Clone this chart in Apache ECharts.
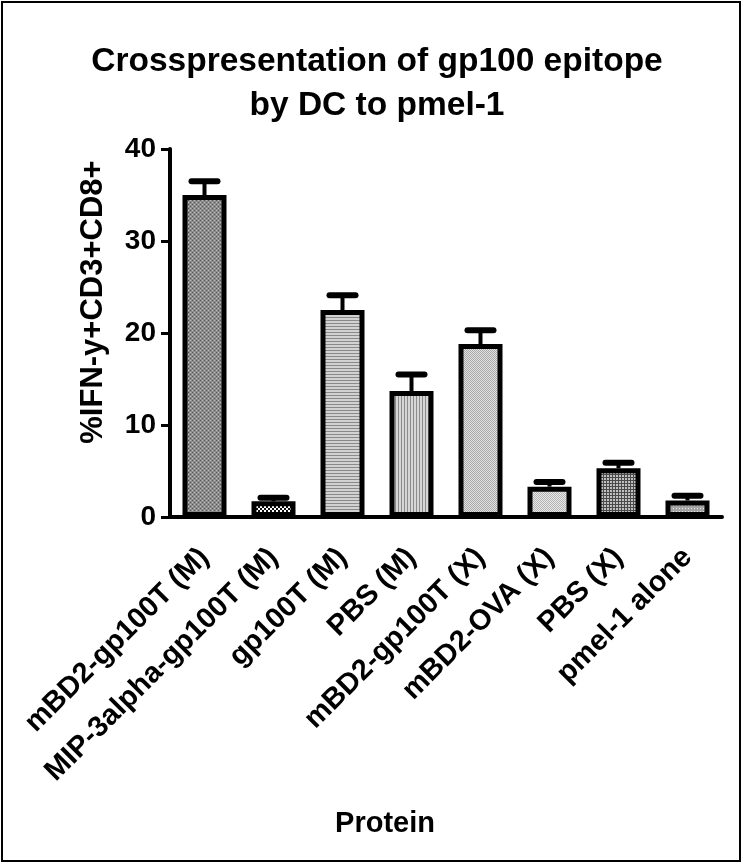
<!DOCTYPE html>
<html><head><meta charset="utf-8">
<script src="https://cdn.jsdelivr.net/npm/echarts@6/dist/echarts.min.js"></script>
<style>html,body{margin:0;padding:0;background:#fff}#c{width:743px;height:864px}</style>
</head><body><div id="c"></div>
<script>
const categories = ['mBD2-gp100T (M)','MIP-3alpha-gp100T (M)','gp100T (M)','PBS (M)','mBD2-gp100T (X)','mBD2-OVA (X)','PBS (X)','pmel-1 alone'];
const means = [35.0, 1.7, 22.5, 13.7, 18.8, 3.3, 5.3, 1.8];
const errTops = [36.5, 2.1, 24.1, 15.5, 20.3, 3.8, 5.9, 2.3];
const yTicks = [0, 10, 20, 30, 40];

function pat(w, h, draw) {
  const c = document.createElement('canvas'); c.width = w; c.height = h;
  const g = c.getContext('2d'); draw(g); return {image: c, repeat: 'repeat'};
}
function px(g, col, x, y, w, h) { g.fillStyle = col; g.fillRect(x, y, w || 1, h || 1); }
const patterns = [
  pat(4, 4, g => { px(g,'#8c8c8c',0,0,4,4); px(g,'#555',0,0); px(g,'#555',2,2); px(g,'#bbb',2,0); px(g,'#bbb',0,2); }),
  pat(4, 4, g => { px(g,'#ffffff',0,0,4,4); px(g,'#111',0,0,2,2); px(g,'#111',2,2,2,2); }),
  pat(1, 3, g => { px(g,'#d2d2d2',0,0,1,2); px(g,'#8a8a8a',0,2); }),
  pat(3, 1, g => { px(g,'#d6d6d6',0,0,2,1); px(g,'#8a8a8a',2,0); }),
  pat(2, 2, g => { px(g,'#e2e2e2',0,0,2,2); px(g,'#a8a8a8',0,0); px(g,'#a8a8a8',1,1); }),
  pat(2, 2, g => { px(g,'#e8e8e8',0,0,2,2); px(g,'#b4b4b4',0,0); px(g,'#b4b4b4',1,1); }),
  pat(3, 3, g => { px(g,'#c0c0c0',0,0,3,3); px(g,'#4a4a4a',0,0,3,1); px(g,'#4a4a4a',0,0,1,3); }),
  pat(3, 3, g => { px(g,'#a4a4a4',0,0,3,3); px(g,'#e8e8e8',1,1); })
];

const chart = echarts.init(document.getElementById('c'), null, {renderer: 'canvas'});
const font = 'Liberation Sans, Arial, sans-serif';
chart.setOption({
  animation: false,
  backgroundColor: '#fff',
  title: [
    {text: 'Crosspresentation of gp100 epitope\nby DC to pmel-1', left: 372, top: 35, textAlign: 'center',
     textStyle: {fontFamily: font, fontWeight: 'bold', fontSize: 33.5, lineHeight: 44, color: '#000'}},
    {text: 'Protein', left: 380, top: 804, textAlign: 'center',
     textStyle: {fontFamily: font, fontWeight: 'bold', fontSize: 29, color: '#000'}}
  ],
  graphic: [
    {type: 'rect', shape: {x: 2, y: 2, width: 738, height: 859}, style: {fill: 'none', stroke: '#000', lineWidth: 2}, z: 100},
    {type: 'text', x: 93, y: 302, rotation: Math.PI / 2,
     style: {text: '%IFN-y+CD3+CD8+', fontFamily: font, fontWeight: 'bold', fontSize: 31, fill: '#000', align: 'center', verticalAlign: 'middle'}}
  ],
  grid: {left: 170, right: 21, top: 149, bottom: 347, containLabel: false},
  xAxis: {
    type: 'category', data: categories,
    axisLine: {lineStyle: {color: '#000', width: 4}},
    axisTick: {alignWithLabel: true, length: 9, lineStyle: {color: '#000', width: 3}},
    axisLabel: {rotate: 45, margin: 36, interval: 0, fontFamily: font, fontWeight: 'bold', fontSize: 29, color: '#000'}
  },
  yAxis: {
    type: 'value', min: 0, max: 40, interval: 10,
    axisLine: {show: true, lineStyle: {color: '#000', width: 4}},
    axisTick: {show: true, length: 9, lineStyle: {color: '#000', width: 3}},
    axisLabel: {margin: 14, fontFamily: font, fontWeight: 'bold', fontSize: 28, color: '#000',
      formatter: v => yTicks.indexOf(v) >= 0 ? String(v) : ''},
    splitLine: {show: false}
  },
  series: [
    {
      type: 'custom', z: 1,
      data: means.map((m, i) => [i, m, errTops[i]]),
      renderItem: (params, api) => {
        const base = api.coord([api.value(0), api.value(1)]);
        const top = api.coord([api.value(0), api.value(2)]);
        const hw = 13;
        return {type: 'group', children: [
          {type: 'line', shape: {x1: base[0], y1: base[1], x2: top[0], y2: top[1]}, style: {stroke: '#000', lineWidth: 4}},
          {type: 'line', shape: {x1: top[0] - hw, y1: top[1], x2: top[0] + hw, y2: top[1]}, style: {stroke: '#000', lineWidth: 6, lineCap: 'round'}}
        ]};
      }
    },
    {
      type: 'bar', z: 2, barWidth: 44,
      data: means.map((m, i) => ({value: m, itemStyle: {color: patterns[i]}})),
      itemStyle: {borderColor: '#000', borderWidth: 5}
    }
  ]
});
</script></body></html>
